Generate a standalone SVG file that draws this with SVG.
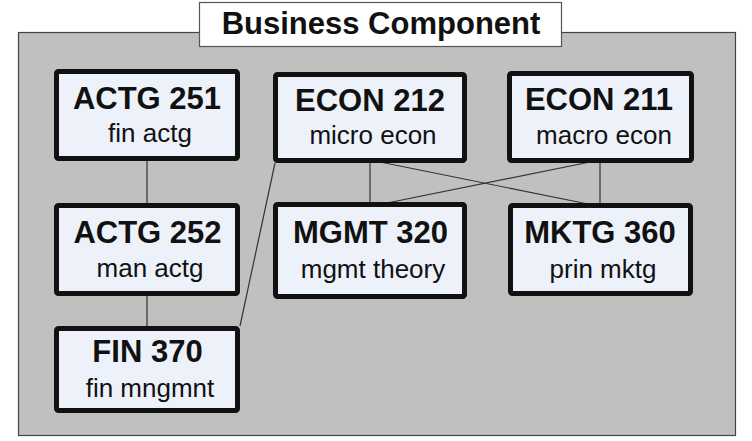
<svg xmlns="http://www.w3.org/2000/svg" width="752" height="441" viewBox="0 0 752 441">
<style>
.frame{fill:#c0c0c0;stroke:#444;stroke-width:1.2}
.hdr{fill:#fff;stroke:#555;stroke-width:1.2}
.box{fill:#edf1f9;stroke:#111;stroke-width:5}
.t{font-family:"Liberation Sans",Arial,sans-serif;font-weight:bold;font-size:31px;fill:#111;text-anchor:middle}
.s{font-family:"Liberation Sans",Arial,sans-serif;font-size:26px;fill:#111;text-anchor:middle}
.c line{stroke:#333;stroke-width:1.2}
</style>
<rect class="frame" x="18.5" y="32.5" width="717" height="403"/>
<g id="title">
<rect class="hdr" x="199.5" y="2.5" width="362" height="44"/>
<text class="t" x="381" y="33.5">Business Component</text>
</g>
<g class="c" id="connectors">
<line x1="147" y1="159" x2="147" y2="205"/>
<line x1="147" y1="294" x2="147" y2="328"/>
<line x1="240" y1="326" x2="275" y2="163"/>
<line x1="370" y1="161" x2="370" y2="204"/>
<line x1="380" y1="162" x2="588" y2="204"/>
<line x1="590" y1="162" x2="382" y2="204"/>
<line x1="600" y1="161" x2="600" y2="205"/>
</g>
<g id="actg251">
<rect class="box" x="56.5" y="71.5" width="181" height="87" rx="2"/>
<text class="t" x="147" y="108.5">ACTG 251</text>
<text class="s" x="150" y="142">fin actg</text>
</g>
<g id="econ212">
<rect class="box" x="275.5" y="74.5" width="189" height="86" rx="2"/>
<text class="t" x="370" y="110.5">ECON 212</text>
<text class="s" x="373" y="144">micro econ</text>
</g>
<g id="econ211">
<rect class="box" x="509.5" y="73.5" width="182" height="87" rx="2"/>
<text class="t" x="599" y="110">ECON 211</text>
<text class="s" x="604" y="144">macro econ</text>
</g>
<g id="actg252">
<rect class="box" x="56.5" y="205.5" width="181" height="88" rx="2"/>
<text class="t" x="147.5" y="243">ACTG 252</text>
<text class="s" x="150" y="277">man actg</text>
</g>
<g id="mgmt320">
<rect class="box" x="275.5" y="204.5" width="189" height="92" rx="2"/>
<text class="t" x="370.5" y="243">MGMT 320</text>
<text class="s" x="373" y="278">mgmt theory</text>
</g>
<g id="mktg360">
<rect class="box" x="510.5" y="205.5" width="180" height="88" rx="2"/>
<text class="t" x="600" y="243">MKTG 360</text>
<text class="s" x="603" y="278">prin mktg</text>
</g>
<g id="fin370">
<rect class="box" x="56.5" y="328.5" width="181" height="82" rx="2"/>
<text class="t" x="147.5" y="362">FIN 370</text>
<text class="s" x="150" y="397">fin mngmnt</text>
</g>
</svg>
